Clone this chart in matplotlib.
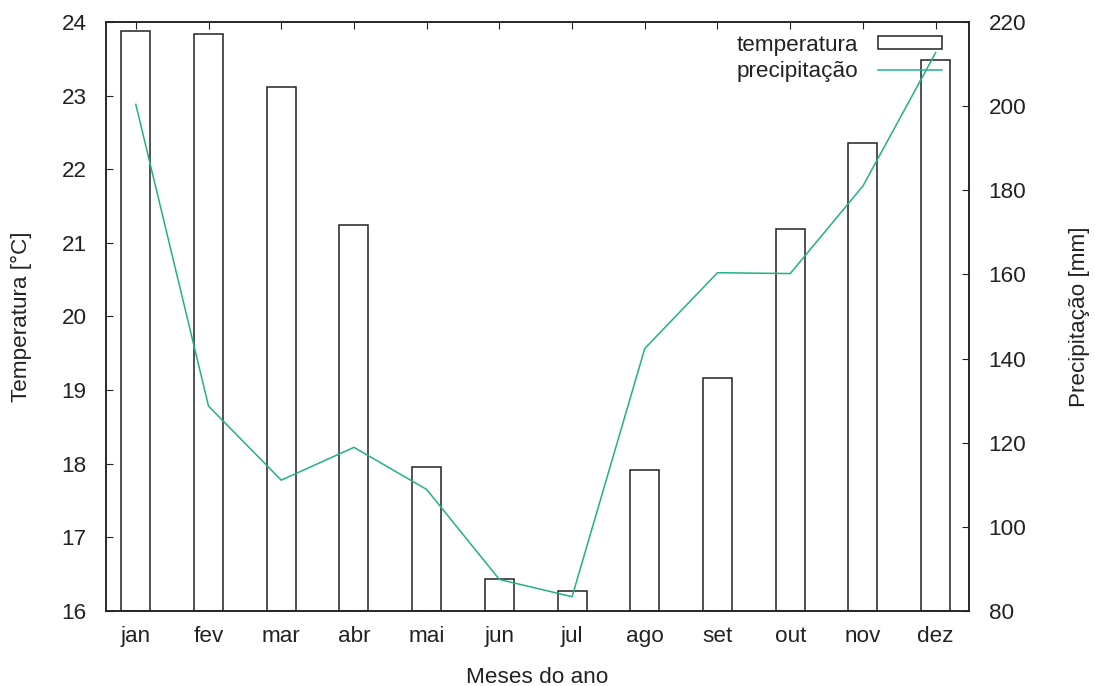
import matplotlib
matplotlib.use("Agg")
import matplotlib.pyplot as plt
from matplotlib.patches import Patch
from matplotlib.lines import Line2D

plt.rcParams["font.family"] = ["Liberation Sans", "DejaVu Sans"]

meses = ["jan", "fev", "mar", "abr", "mai", "jun", "jul", "ago", "set", "out", "nov", "dez"]
temperatura = [23.88, 23.83, 23.12, 21.24, 17.96, 16.44, 16.27, 17.92, 19.17, 21.19, 22.35, 23.49]
precipitacao = [200.4, 128.7, 111.1, 118.9, 108.9, 87.5, 83.4, 142.4, 160.4, 160.2, 181.0, 212.7]

GREEN = "#22b088"
EDGE = "#222222"
TXT = "#222222"
FS = 16.2

fig = plt.figure(figsize=(10.95, 6.86), dpi=100)
ax = fig.add_axes([0.0968, 0.1093, 0.7882, 0.8587])
x = list(range(len(meses)))

ax.bar(x, [t - 16 for t in temperatura], bottom=16, width=0.40,
       facecolor="white", edgecolor=EDGE, linewidth=1.1, zorder=2)
ax.set_xlim(-0.41, 11.46)
ax.set_ylim(16, 24)
ax.set_xticks(x)
ax.set_xticklabels(meses)
ax.set_yticks(range(16, 25))
ax.tick_params(axis="x", direction="in", top=True, length=5, labelsize=FS, pad=11,
               color=EDGE, labelcolor=TXT)
ax.tick_params(axis="y", direction="in", right=False, length=5, labelsize=FS, pad=14,
               color=EDGE, labelcolor=TXT)
for s in ax.spines.values():
    s.set_color(EDGE)
    s.set_linewidth(1.1)
ax.set_xlabel("Meses do ano", fontsize=FS, labelpad=14, color=TXT)
ax.set_ylabel("Temperatura [°C]", fontsize=FS, labelpad=21, color=TXT)

ax2 = ax.twinx()
ax2.plot(x, precipitacao, color=GREEN, lw=1.1, zorder=3)
ax2.set_ylim(80, 220)
ax2.set_yticks(range(80, 221, 20))
ax2.tick_params(axis="y", direction="in", length=5, labelsize=FS, pad=14,
                color=EDGE, labelcolor=TXT)
for s in ax2.spines.values():
    s.set_color(EDGE)
    s.set_linewidth(1.1)
ax2.set_ylabel("Precipitação [mm]", fontsize=FS, labelpad=31, color=TXT)

handles = [Patch(facecolor="white", edgecolor=EDGE, linewidth=1.1),
           Line2D([0], [0], color=GREEN, lw=1.1)]
leg = ax2.legend(handles, ["temperatura", "precipitação"], loc="upper right",
                 bbox_to_anchor=(0.992, 1.013), frameon=False, markerfirst=False,
                 fontsize=FS, handlelength=2.83, handleheight=0.5, labelspacing=0.25,
                 handletextpad=0.88)
for t in leg.get_texts():
    t.set_color(TXT)

fig.savefig("out.png", dpi=100, facecolor="white")
